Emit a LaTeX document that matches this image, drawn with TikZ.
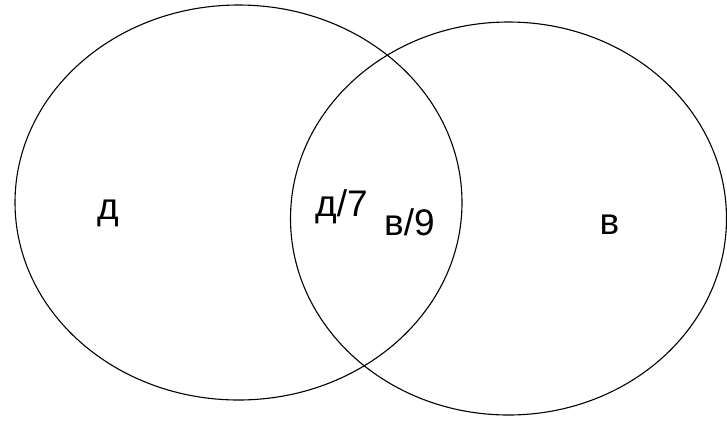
\documentclass[tikz,border=0pt]{standalone}
\usepackage{fontspec}
\setmainfont{Liberation Sans}
\begin{document}
\begin{tikzpicture}[x=1pt,y=-1pt,
  setshape/.style={draw=black,line width=1.1pt},
  lbl/.style={inner sep=0pt,anchor=base west,font=\fontsize{37}{44}\selectfont}]
\useasboundingbox (0,0) rectangle (727,421);
\draw[setshape] (238.5,202.5) ellipse [x radius=223.5, y radius=197.5];
\draw[setshape] (508.5,218.5) ellipse [x radius=218, y radius=196.5];
\node[lbl] (d) at (97,219.5) {д};
\node[lbl] (d7) at (315,216.5) {д/7};
\node[lbl] (v9) at (384,235) {в/9};
\node[lbl] (v) at (599.5,234.5) {в};
\end{tikzpicture}
\end{document}
